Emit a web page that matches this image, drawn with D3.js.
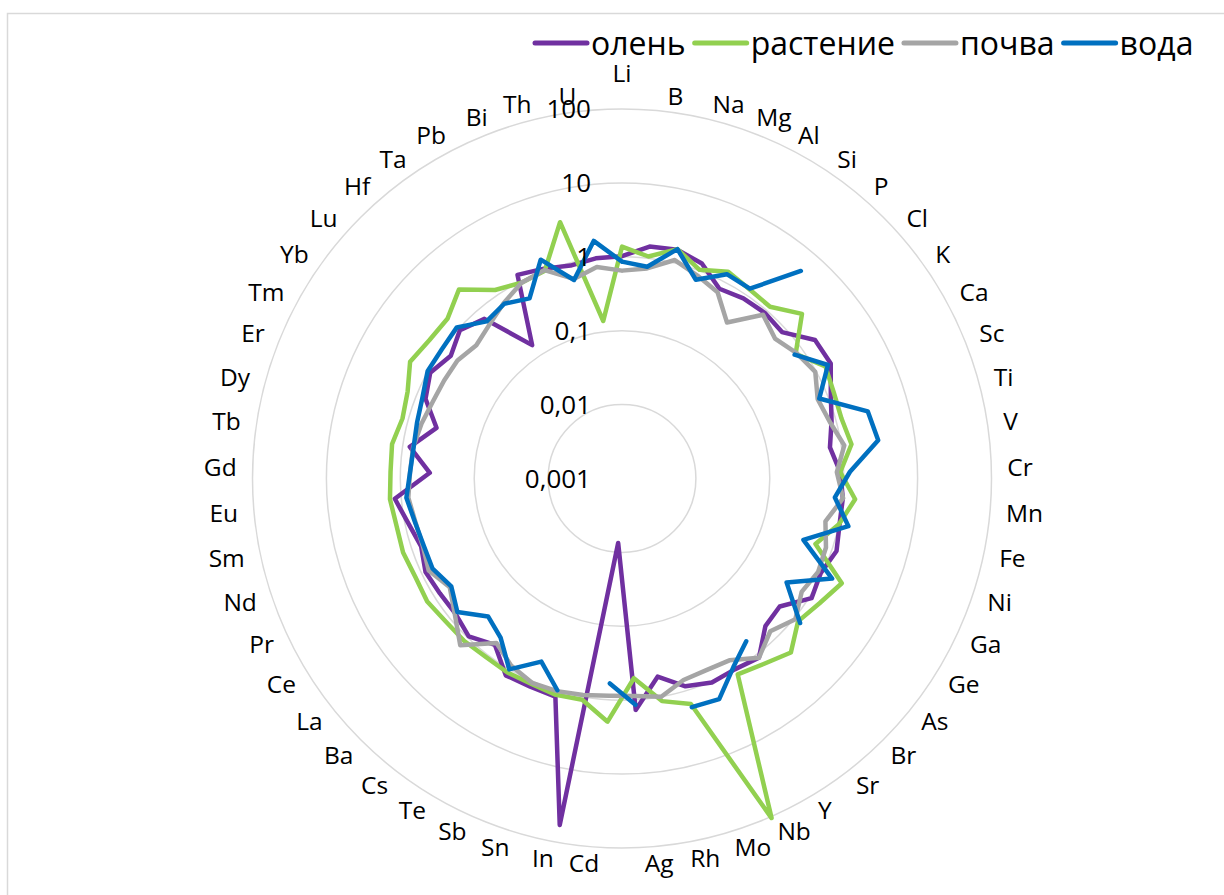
<!DOCTYPE html>
<html>
<head>
<meta charset="utf-8">
<script src="https://cdn.jsdelivr.net/npm/d3@7"></script>
<style>
  body { margin: 0; background: #fff; }
  svg { display: block; }
  text { font-family: "Open Sans", "Noto Sans", sans-serif; fill: #000; }
</style>
</head>
<body>
<svg id="chart" width="1224" height="895"></svg>
<script>
// Elements on the radar spokes, clockwise from the top
const categories = ["Li","B","Na","Mg","Al","Si","P","Cl","K","Ca","Sc","Ti","V","Cr","Mn","Fe","Ni","Ga","Ge","As","Br","Sr","Y","Nb","Mo","Rh","Ag","Cd","In","Sn","Sb","Te","Cs","Ba","La","Ce","Pr","Nd","Sm","Eu","Gd","Tb","Dy","Er","Tm","Yb","Lu","Hf","Ta","Pb","Bi","Th","U"];

// Series values (null = no data)
const deer  = [1.02,1.45,1.53,1.27,0.77,0.87,0.91,0.86,1.64,1.68,1.12,0.87,0.70,0.90,1.00,1.02,1.16,0.95,1.08,0.56,0.61,1.13,1.00,1.04,0.87,0.53,1.37,0.0075,58,1.22,1.20,1.24,0.68,0.95,0.80,0.82,0.88,0.74,0.90,1.22,0.40,0.80,0.40,0.74,0.92,0.71,0.94,0.71,0.15,1.25,1.07,0.92,1.00];
const plant = [1.37,1.06,1.56,1.03,1.40,1.22,1.17,2.00,0.78,1.39,1.24,1.20,1.38,0.90,1.47,1.00,0.58,1.97,1.45,1.17,1.91,1.44,1.20,105,1.55,1.15,0.51,1.98,1.10,1.15,1.09,1.12,1.09,1.16,1.18,1.31,1.25,1.34,1.31,1.42,1.36,1.40,1.20,1.35,1.88,1.62,1.59,2.39,1.19,0.95,1.00,3.70,0.14];
const soil  = [0.65,0.73,1.10,0.85,0.68,0.35,0.84,0.64,0.81,0.97,0.72,0.82,1.10,0.81,1.01,0.65,0.82,0.87,0.75,1.05,0.76,1.13,0.72,0.68,0.71,1.00,0.89,0.88,0.95,1.02,1.05,0.88,0.63,1.39,0.82,0.57,0.79,0.70,0.72,0.80,0.74,0.72,0.65,0.58,0.56,0.55,0.47,0.56,0.73,0.95,1.02,0.60,0.76];
const water = [0.86,0.77,1.56,0.74,1.28,1.25,5.10,null,0.75,1.52,0.76,2.80,3.20,1.22,0.78,1.35,0.39,1.41,0.43,1.27,null,0.59,0.92,1.83,1.72,null,1.17,0.60,null,0.99,0.51,1.00,0.51,0.40,0.74,0.54,0.69,0.68,0.73,0.85,0.74,0.71,0.75,0.82,1.01,1.00,1.07,0.64,0.71,0.55,1.44,0.58,1.73];

const seriesNames  = ["олень", "растение", "почва", "вода"];
const seriesColors = ["#7030A0", "#92D050", "#A5A5A5", "#0070C0"];
const seriesValues = [deer, plant, soil, water];

// Logarithmic radial axis
const tickValues = [0.001, 0.01, 0.1, 1, 10, 100];

const W = 1224, H = 895;
const cx = 622, cy = 478.5, R = 369.5;
const labelSize = 24.5, tickSize = 26, legendSize = 32;

const svg = d3.select("#chart");

// Chart frame
svg.append("rect")
  .attr("x", 7.5).attr("y", 13.5)
  .attr("width", W).attr("height", H)
  .attr("fill", "#fff").attr("stroke", "#d9d9d9").attr("stroke-width", 1.5);

const r = d3.scaleLog().domain([tickValues[0], tickValues[tickValues.length - 1]]).range([0, R]);
const angle = d3.scaleLinear().domain([0, categories.length]).range([0, 2 * Math.PI]);

const plot = svg.append("g").attr("transform", `translate(${cx},${cy})`);

// Grid rings
plot.append("g").selectAll("circle")
  .data(tickValues.slice(1))
  .join("circle")
  .attr("r", d => r(d))
  .attr("fill", "none")
  .attr("stroke", "#d9d9d9")
  .attr("stroke-width", 1.5);

// Series lines, closed back to the first spoke; nulls leave gaps
const line = d3.lineRadial()
  .angle(d => angle(d.i))
  .radius(d => r(d.v))
  .defined(d => d.v != null);

seriesValues.forEach((vals, k) => {
  const pts = vals.map((v, i) => ({ i, v }));
  pts.push({ i: categories.length, v: vals[0] });
  plot.append("path")
    .datum(pts)
    .attr("d", line)
    .attr("fill", "none")
    .attr("stroke", seriesColors[k])
    .attr("stroke-width", 4.5)
    .attr("stroke-linejoin", "round")
    .attr("stroke-linecap", "round");
});

// Radial tick labels with a decimal comma
const ru = d3.formatLocale({ decimal: ",", thousands: "\u00a0", grouping: [3], currency: ["", "\u00a0₽"] });
const fmt = ru.format("~g");
plot.append("g").selectAll("text")
  .data(tickValues)
  .join("text")
  .attr("x", -31)
  .attr("y", d => -r(d) + tickSize * 0.36)
  .attr("text-anchor", "end")
  .style("font-size", tickSize + "px")
  .text(d => fmt(d));

// Category labels around the outer ring
const rho = R + 16;
plot.append("g").selectAll("text")
  .data(categories)
  .join("text")
  .each(function (c, i) {
    const a = angle(i);
    const s = Math.sin(a), co = Math.cos(a);
    const x = rho * s, y = -rho * co;
    const t = d3.select(this).style("font-size", labelSize + "px").text(c);
    if (Math.abs(s) < 1e-6) {
      t.attr("x", x).attr("y", y - 11).attr("text-anchor", "middle");
    } else {
      t.attr("x", x).attr("y", y + labelSize * 0.36)
       .attr("text-anchor", s > 0 ? "start" : "end");
    }
  });

// Legend along the top
const legend = svg.append("g");
let lx = 533;
const ly = 43;
seriesNames.forEach((name, k) => {
  legend.append("line")
    .attr("x1", lx + 2).attr("x2", lx + 54)
    .attr("y1", ly).attr("y2", ly)
    .attr("stroke", seriesColors[k])
    .attr("stroke-width", 5)
    .attr("stroke-linecap", "round");
  const t = legend.append("text")
    .attr("x", lx + 58)
    .attr("y", ly + legendSize * 0.36)
    .style("font-size", legendSize + "px")
    .text(name);
  lx += 58 + t.node().getComputedTextLength() + 7;
});
</script>
</body>
</html>
